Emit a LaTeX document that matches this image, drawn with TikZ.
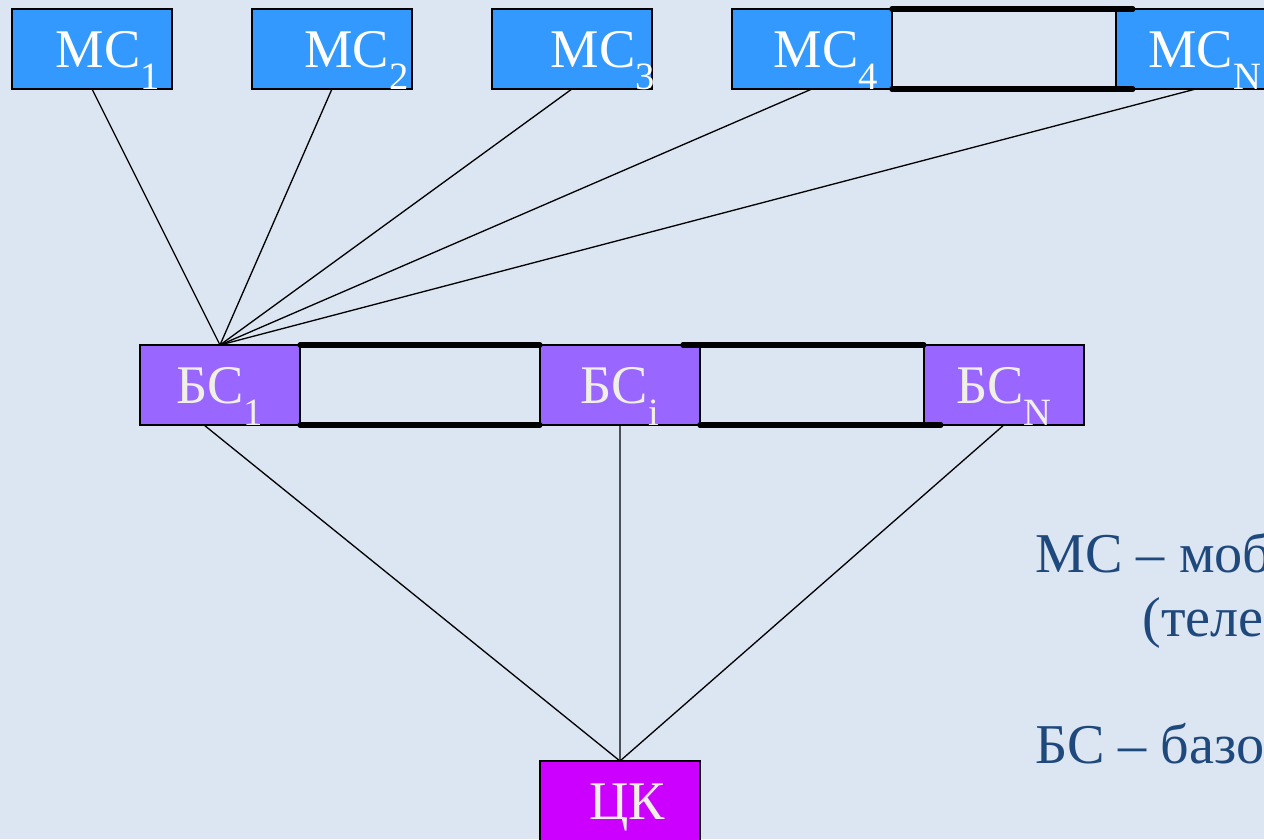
\documentclass[tikz,border=0pt]{standalone}
\usepackage{fontspec}
\setmainfont{Liberation Serif}
\usepackage{tikz}
\usetikzlibrary{positioning}
\definecolor{MSBlue}{RGB}{51,153,255}
\definecolor{BSViolet}{RGB}{153,102,255}
\definecolor{CKMagenta}{RGB}{204,0,255}
\definecolor{SlideBg}{RGB}{220,230,242}
\definecolor{LegendBlue}{RGB}{31,73,125}
\definecolor{PaleText}{RGB}{240,240,232}
\newcommand{\idx}[1]{\raisebox{-0.42em}{\fontsize{22}{22}\selectfont #1}}
% text set a little off centre, as on the slide
\newcommand{\offc}[2]{\makebox[0pt]{\hspace*{#1}#2}}
\tikzstyle{link} = [line width=0.75pt]
\tikzstyle{trunk} = [line width=3pt, line cap=round]
\tikzstyle{station} = [rectangle, draw=black, line width=1.1pt, minimum width=3.2cm, minimum height=1.6cm, inner sep=0pt, outer sep=0pt, font=\fontsize{31}{37}\selectfont, text height=20.5pt, text depth=0pt]
\tikzstyle{msbox} = [station, fill=MSBlue, text=white]
\tikzstyle{bsbox} = [station, fill=BSViolet, text=PaleText]
\tikzstyle{ckbox} = [station, fill=CKMagenta, text=PaleText]
\tikzstyle{legend} = [anchor=base west, inner sep=0pt, text=LegendBlue, font=\fontsize{32}{38}\selectfont]

\begin{document}
\begin{tikzpicture}[x=0.02cm, y=-0.02cm]
  \useasboundingbox (0,0) rectangle (1264,839);
  \clip (0,0) rectangle (1264,839);
  \fill [SlideBg] (0,0) rectangle (1264,839);
  % mobile stations
  \node (mc1) [msbox] at (92,49) {\offc{18pt}{МС\idx{1}}};
  \node (mc2) [msbox, right=1.6cm of mc1] {\offc{28pt}{МС\idx{2}}};
  \node (mc3) [msbox, right=1.6cm of mc2] {\offc{35pt}{МС\idx{3}}};
  \node (mc4) [msbox, right=1.6cm of mc3] {\offc{16pt}{МС\idx{4}}};
  \node (mcn) [msbox, right=4.48cm of mc4] {\offc{10pt}{МС\idx{N}}};
  \draw [trunk] (mc4.north east) -- ([xshift=0.34cm]mcn.north west);
  \draw [trunk] (mc4.south east) -- ([xshift=0.34cm]mcn.south west);
  % base stations
  \node (bs1) [bsbox] at (220,385) {БС\idx{1}};
  \node (bsi) [bsbox, right=4.8cm of bs1] {БС\idx{i}};
  \node (bsn) [bsbox, right=4.48cm of bsi] {БС\idx{N}};
  \draw [trunk] (bs1.north east) -- (bsi.north west);
  \draw [trunk] (bs1.south east) -- (bsi.south west);
  \draw [trunk] ([xshift=-0.34cm]bsi.north east) -- (bsn.north west);
  \draw [trunk] (bsi.south east) -- ([xshift=0.34cm]bsn.south west);
  % switching centre
  \node (ck) [ckbox] at (620,801) {\offc{8pt}{ЦК}};
  % radio links
  \foreach \m in {mc1,mc2,mc3,mc4,mcn}
    \draw [link] (\m.south) -- (bs1.north);
  \draw [link] ([xshift=-0.32cm]bs1.south) -- (ck.north);
  \draw [link] (bsi.south) -- (ck.north);
  \draw [link] (bsn.south) -- (ck.north);
  % legend
  \node (lgms) [legend] at (1035,572) {МС – мобильная станция};
  \node (lgtel) [legend] at (1142,636) {(телесистема)};
  \node (lgbs) [legend] at (1035,763) {БС – базовая станция};
\end{tikzpicture}
\end{document}
